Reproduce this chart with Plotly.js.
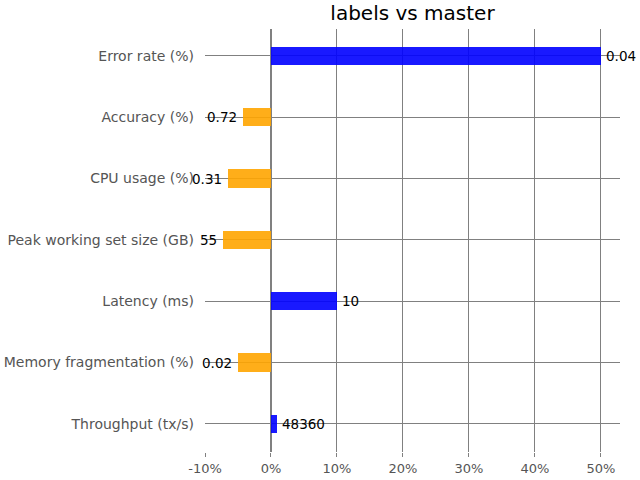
<!DOCTYPE html>
<html>
<head>
<meta charset="utf-8">
<script src="https://cdn.plot.ly/plotly-3.0.1.min.js"></script>
<style>html,body{margin:0;padding:0;background:#fff;}#chart{width:640px;height:480px;}</style>
</head>
<body>
<div id="chart"></div>
<script>
const categories = ["Throughput (tx/s)", "Memory fragmentation (%)", "Latency (ms)", "Peak working set size (GB)", "CPU usage (%)", "Accuracy (%)", "Error rate (%)"];
const changePct = [0.9, -5.0, 10, -7.3, -6.5, -4.2, 50];
const valueLabels = ["48360", "0.02", "10", "55", "0.31", "0.72", "0.04"];
const tickVals = [-10, 0, 10, 20, 30, 40, 50];
const tickText = ["-10%", "0%", "10%", "20%", "30%", "40%", "50%"];

const colors = changePct.map(v => v >= 0 ? "rgba(0,0,255,0.9)" : "rgba(255,165,0,0.9)");

const trace = {
  type: "bar",
  orientation: "h",
  y: categories.map((c, i) => i),
  x: changePct,
  width: 0.3,
  marker: {color: colors, line: {width: 0}},
  hoverinfo: "none"
};

const annotations = changePct.map((v, i) => ({
  x: v, y: i, xref: "x", yref: "y",
  text: valueLabels[i],
  showarrow: false,
  xanchor: v >= 0 ? "left" : "right",
  yanchor: "middle",
  xshift: v >= 0 ? 4 : -5,
  borderpad: 0,
  font: {family: "DejaVu Sans", size: 13.5, color: "#000"}
}));

const layout = {
  width: 640, height: 480,
  margin: {l: 205, r: 20, t: 29, b: 28},
  paper_bgcolor: "#fff", plot_bgcolor: "#fff",
  showlegend: false,
  annotations: annotations,
  title: {text: "labels vs master", font: {family: "DejaVu Sans", size: 20, color: "#000"}, x: 0.5, xanchor: "center", y: 0.973, yanchor: "middle", xref: "paper"},
  xaxis: {
    range: [-10, 52.9],
    tickvals: tickVals, ticktext: tickText,
    showgrid: true, gridcolor: "#808080", gridwidth: 1,
    zeroline: true, zerolinecolor: "#808080", zerolinewidth: 2,
    ticks: "outside", ticklen: 4, tickcolor: "#808080",
    showline: false,
    tickfont: {family: "DejaVu Sans", size: 13, color: "#555"}
  },
  yaxis: {
    range: [-0.46, 6.44],
    tickvals: categories.map((c, i) => i), ticktext: categories,
    showgrid: true, gridcolor: "#808080", gridwidth: 1,
    zeroline: false, showline: false, ticks: "",
    ticklabelstandoff: 10,
    tickfont: {family: "DejaVu Sans", size: 14, color: "#555"}
  },
  bargap: 0
};

Plotly.newPlot("chart", [trace], layout, {staticPlot: true, displayModeBar: false});
</script>
</body>
</html>
